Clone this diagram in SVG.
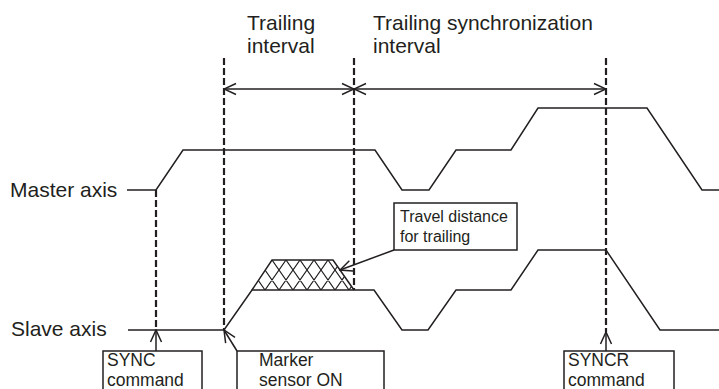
<svg xmlns="http://www.w3.org/2000/svg" width="719" height="389" viewBox="0 0 719 389">
<style>
text{font-family:"Liberation Sans",Arial,sans-serif;fill:#231f20}
.t{font-size:21px}
.b{font-size:17.5px}
.s{font-size:16px}
.ln{fill:none;stroke:#231f20;stroke-width:1.5}
.dash{fill:none;stroke:#231f20;stroke-width:2.2;stroke-dasharray:7 3}
.box{fill:#fff;stroke:#231f20;stroke-width:1.5}
.h{stroke:#231f20;stroke-width:1.2}
</style>
<defs>
<marker id="arr" viewBox="0 0 14 14" refX="13" refY="7" markerWidth="14" markerHeight="14" markerUnits="userSpaceOnUse" orient="auto-start-reverse">
<path d="M1,1.5 L13,7 L1,12.5" fill="none" stroke="#231f20" stroke-width="1.5"/>
</marker>
<clipPath id="trap"><polygon points="252,290 272,260 333,260 354,290"/></clipPath>
</defs>
<rect width="719" height="389" fill="#fff"/>

<g id="labels">
<text class="t" x="247" y="30">Trailing</text>
<text class="t" x="247" y="53">interval</text>
<text class="t" x="373" y="30">Trailing synchronization</text>
<text class="t" x="373" y="53">interval</text>
<text class="t" x="10" y="197">Master axis</text>
<text class="t" x="11" y="336">Slave axis</text>
</g>

<g id="master-axis">
<polyline class="ln" points="127,190 156,190 183,150 375,150 402,190 429,190 456,150 511,150 538,108 647,108 702,190 719,190"/>
</g>

<g id="slave-axis">
<polyline class="ln" points="128,330 224,330 252,290 374,290 402,330 428,330 456,290 511,290 538,250 606,250 660,330 719,330"/>
</g>

<g id="hatch">
<g clip-path="url(#trap)">
<path class="h" d="M230,260 L251,290 M244,260 L265,290 M258,260 L279,290 M272,260 L293,290 M286,260 L307,290 M300,260 L321,290 M314,260 L335,290 M328,260 L349,290 M286,260 L265,290 M300,260 L279,290 M314,260 L293,290 M328,260 L307,290 M342,260 L321,290 M356,260 L335,290 M370,260 L349,290"/>
</g>
<polyline class="ln" points="252,290 272,260 333,260 354,290"/>
</g>

<g id="connectors">
<line class="dash" x1="156" y1="190" x2="156" y2="330"/>
<line class="dash" x1="224" y1="58" x2="224" y2="330"/>
<line class="dash" x1="354" y1="58" x2="354" y2="290"/>
<line class="dash" x1="606" y1="58" x2="606" y2="332"/>
<line class="ln" x1="224" y1="89" x2="354" y2="89" marker-start="url(#arr)" marker-end="url(#arr)"/>
<line class="ln" x1="354" y1="89" x2="606" y2="89" marker-start="url(#arr)" marker-end="url(#arr)"/>
<line class="ln" x1="156" y1="351" x2="156" y2="330" marker-end="url(#arr)"/>
<line class="ln" x1="237" y1="351" x2="224" y2="330" marker-end="url(#arr)"/>
<line class="ln" x1="606" y1="351" x2="606" y2="332" marker-end="url(#arr)"/>
<line class="ln" x1="394" y1="250" x2="340" y2="270" marker-end="url(#arr)"/>
</g>

<g id="sync-command">
<rect class="box" x="103" y="351" width="99" height="45"/>
<text class="b" x="107" y="366">SYNC</text>
<text class="b" x="107" y="386">command</text>
</g>

<g id="marker-sensor">
<rect class="box" x="237" y="351" width="147" height="45"/>
<text class="b" x="259" y="366">Marker</text>
<text class="b" x="259" y="386">sensor ON</text>
</g>

<g id="syncr-command">
<rect class="box" x="564" y="351" width="110" height="45"/>
<text class="b" x="568" y="366">SYNCR</text>
<text class="b" x="568" y="386">command</text>
</g>

<g id="travel-distance">
<rect class="box" x="394" y="203" width="123" height="47"/>
<text class="s" x="400" y="222">Travel distance</text>
<text class="s" x="400" y="242">for trailing</text>
</g>
</svg>
